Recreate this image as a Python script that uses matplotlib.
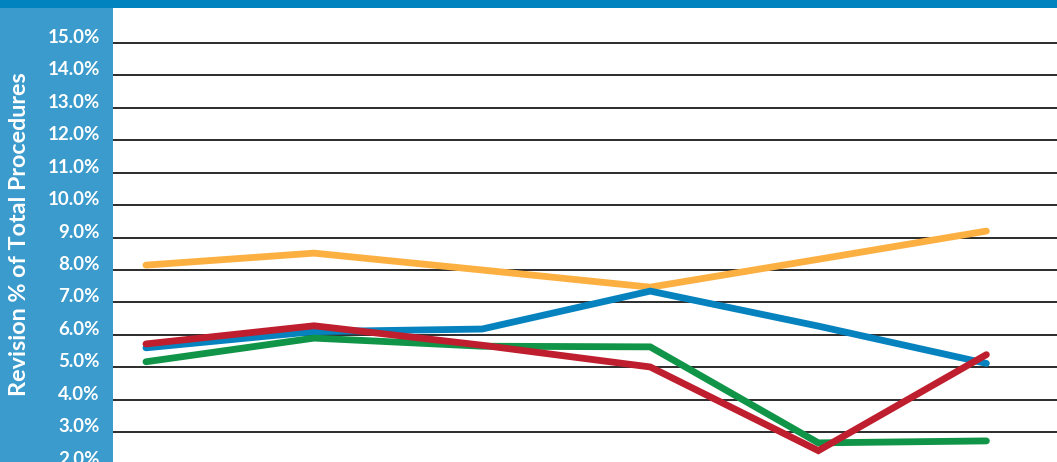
import matplotlib
matplotlib.use("Agg")
import matplotlib.pyplot as plt
from matplotlib.patches import Rectangle

# ---- data ----
x_index = [0, 1, 2, 3, 4, 5]
orange_vals = [8.15, 8.52, 8.00, 7.47, 8.33, 9.20]
blue_vals = [5.60, 6.10, 6.18, 7.35, 6.27, 5.12]
red_vals = [5.72, 6.28, 5.68, 5.01, 2.43, 5.39]
green_vals = [5.17, 5.90, 5.65, 5.63, 2.67, 2.73]
y_ticks = [2, 3, 4, 5, 6, 7, 8, 9, 10, 11, 12, 13, 14, 15]
y_tick_labels = ["2.0%", "3.0%", "4.0%", "5.0%", "6.0%", "7.0%", "8.0%",
                 "9.0%", "10.0%", "11.0%", "12.0%", "13.0%", "14.0%", "15.0%"]
y_label = "Revision % of Total Procedures"

series = [
    (orange_vals, "#FDB042"),
    (blue_vals, "#0683BF"),
    (green_vals, "#109447"),
    (red_vals, "#BE1E2D"),
]

W, H = 1057, 462
fig = plt.figure(figsize=(W / 100, H / 100), dpi=100)
fig.patch.set_facecolor("white")

# background bands
fig.patches.append(Rectangle((0, 1 - 8 / H), 1, 8 / H, transform=fig.transFigure,
                             facecolor="#0083BE", edgecolor="none", zorder=-5))
fig.patches.append(Rectangle((0, 0), 113 / W, 1 - 8 / H, transform=fig.transFigure,
                             facecolor="#3A9BCC", edgecolor="none", zorder=-5))

ax = fig.add_axes([113 / W, -8 / H, 1 - 113 / W, 1.0])
ax.set_facecolor("none")
for s in ax.spines.values():
    s.set_visible(False)

for vals, col in series:
    ax.plot(x_index, vals, color=col, lw=4.9, solid_capstyle="round",
            solid_joinstyle="miter", zorder=3)

ax.set_xlim(-0.196, 5.42)
ax.set_ylim(1.833, 16.079)
ax.set_xticks([])
ax.set_yticks(y_ticks)
ax.set_yticklabels(y_tick_labels, fontfamily="Lato", fontweight="bold",
                   fontsize=13.5, color="white")
for lab in ax.get_yticklabels():
    lab.set_va("baseline")
ax.tick_params(axis="y", length=0, pad=9.5)
ax.grid(axis="y", color="#2b2b2b", lw=1.4, zorder=1)
ax.set_axisbelow(True)

fig.text(19.5 / W, 1 - 234 / H, y_label, rotation=90, ha="center", va="center",
         fontfamily="Lato", fontweight="bold", fontsize=16.8, color="white")

fig.savefig("out.png", dpi=100)
